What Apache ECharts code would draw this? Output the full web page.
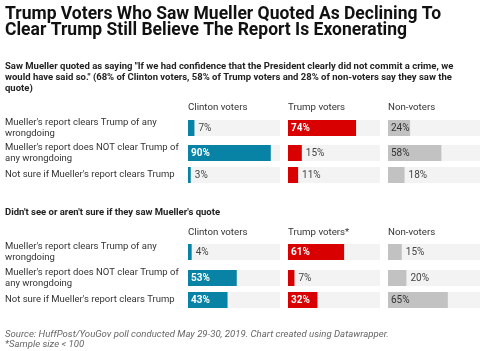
<!DOCTYPE html>
<html lang="en">
<head>
    <meta charset="UTF-8">
    <title>Mueller quote</title>
    <script src="https://cdn.jsdelivr.net/npm/echarts@6/dist/echarts.min.js"></script>
    <style>
        html, body { margin: 0; padding: 0; background: #fff; }
        #chart { width: 491px; height: 351px; }
    </style>
</head>
<body>
<div id="chart"></div>
<script type="text/javascript">
    // row labels and column headers
    var rowLabels = [
        "Mueller's report clears Trump of any\nwrongdoing",
        "Mueller's report does NOT clear Trump of\nany wrongdoing",
        "Not sure if Mueller's report clears Trump"
    ];
    var headersSaw = ['Clinton voters', 'Trump voters', 'Non-voters'];
    var headersNot = ['Clinton voters', 'Trump voters*', 'Non-voters'];

    // saw the quote
    var sawClinton = [7, 90, 3];
    var sawTrump = [74, 15, 11];
    var sawNon = [24, 58, 18];
    // didn't see / not sure
    var notClinton = [4, 53, 43];
    var notTrump = [61, 7, 32];
    var notNon = [15, 20, 65];

    var font = 'Roboto';
    var colColors = ['#0883a6', '#d80000', '#c2c2c2'];
    var colLeft = [188, 288, 388];
    var colW = 92;
    var sections = [
        { tops: [120, 145, 167], headerY: 103, headers: headersSaw, data: [sawClinton, sawTrump, sawNon] },
        { tops: [244, 270, 292], headerY: 227.5, headers: headersNot, data: [notClinton, notTrump, notNon] }
    ];

    var grids = [], xAxes = [], yAxes = [], series = [];
    var titles = [
        { text: 'Trump Voters Who Saw Mueller Quoted As Declining To\nClear Trump Still Believe The Report Is Exonerating',
          left: 5, top: 6, padding: 0, textStyle: { fontFamily: font, fontSize: 17.5, fontWeight: 'bold', color: '#111', lineHeight: 16.5 } },
        { text: 'Saw Mueller quoted as saying "If we had confidence that the President clearly did not commit a crime, we\nwould have said so." (68% of Clinton voters, 58% of Trump voters and 28% of non-voters say they saw the\nquote)',
          left: 5, top: 61.5, padding: 0, textStyle: { fontFamily: font, fontSize: 9.5, fontWeight: 'bold', color: '#222', lineHeight: 11 } },
        { text: "Didn't see or aren't sure if they saw Mueller's quote",
          left: 5, top: 208, padding: 0, textStyle: { fontFamily: font, fontSize: 9.5, fontWeight: 'bold', color: '#222' } },
        { text: 'Source: HuffPost/YouGov poll conducted May 29-30, 2019. Chart created using Datawrapper.\n*Sample size < 100',
          left: 5, top: 329, padding: 0, textStyle: { fontFamily: font, fontSize: 9.6, fontStyle: 'italic', fontWeight: 'normal', color: '#666', lineHeight: 10.5 } }
    ];

    sections.forEach(function (sec) {
        sec.headers.forEach(function (h, c) {
            titles.push({ text: h, left: colLeft[c], top: sec.headerY, padding: 0,
                textStyle: { fontFamily: font, fontSize: 9.7, fontWeight: 'normal', color: '#333' } });
        });
        for (var c = 0; c < 3; c++) {
            for (var r = 0; r < 3; r++) {
                var k = grids.length;
                var v = sec.data[c][r];
                grids.push({ left: colLeft[c], top: sec.tops[r], width: colW, height: 16 });
                xAxes.push({ type: 'value', gridIndex: k, min: 0, max: 100, show: false });
                yAxes.push({
                    type: 'category', gridIndex: k, data: [rowLabels[r]],
                    axisLine: { show: false }, axisTick: { show: false },
                    axisLabel: {
                        show: c === 0, align: 'left', margin: colLeft[0] - 5,
                        fontFamily: font, fontSize: 9.5, lineHeight: 11, color: '#333'
                    }
                });
                var inside = v >= 22;
                var lbl = inside ? {
                    show: true, position: 'insideLeft', distance: 3,
                    color: c < 2 ? '#fff' : '#333', fontWeight: c < 2 ? 'bold' : 'normal'
                } : {
                    show: true, position: 'right', distance: 4, color: '#444', fontWeight: 'normal'
                };
                lbl.formatter = '{c}%';
                lbl.fontFamily = font;
                lbl.fontSize = 10;
                series.push({
                    type: 'bar', xAxisIndex: k, yAxisIndex: k, barWidth: 16,
                    showBackground: true, backgroundStyle: { color: '#f3f3f3' },
                    itemStyle: { color: colColors[c] },
                    silent: true,
                    data: [{ value: v, label: lbl }]
                });
            }
        }
    });

    var chart = echarts.init(document.getElementById('chart'));
    chart.setOption({
        animation: false,
        backgroundColor: '#fff',
        title: titles,
        grid: grids,
        xAxis: xAxes,
        yAxis: yAxes,
        series: series
    });
</script>
</body>
</html>
